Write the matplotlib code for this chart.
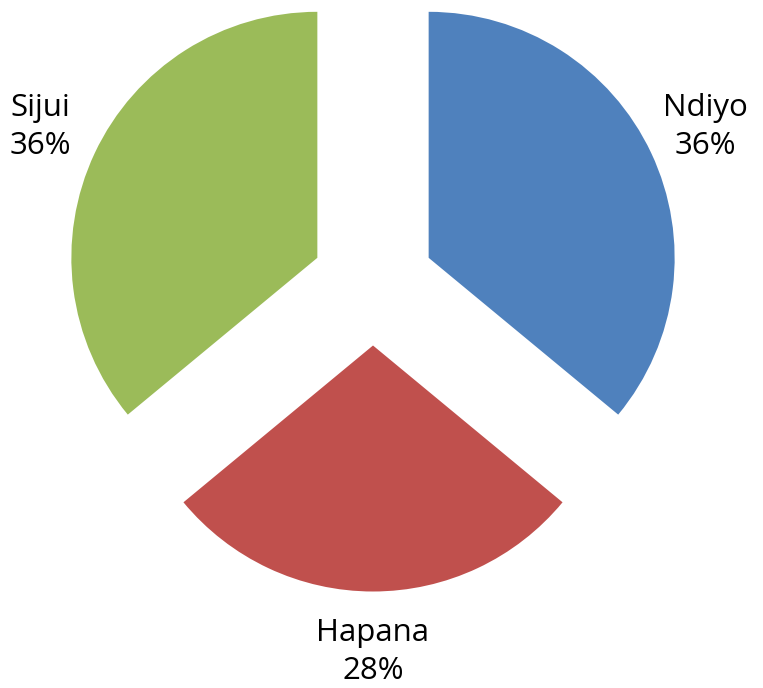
import matplotlib
matplotlib.use("Agg")
import matplotlib.pyplot as plt

categories = ["Ndiyo", "Hapana", "Sijui"]
values = [36, 28, 36]
colors = ["#4F81BD", "#C0504D", "#9BBB59"]

W, H, DPI = 763, 688, 100
fig = plt.figure(figsize=(W / DPI, H / DPI), dpi=DPI)
ax = fig.add_axes([0, 0, 1, 1])

labels = [f"{c}\n{v}%" for c, v in zip(categories, values)]
wedges, texts = ax.pie(values, labels=labels, colors=colors, startangle=90,
                       counterclock=False, explode=[0.25] * 3,
                       labeldistance=1.245,
                       wedgeprops=dict(linewidth=0),
                       textprops=dict(fontsize=22.5, family=["Open Sans", "DejaVu Sans"],
                                      color="black"))
for t in texts:
    t.set_ha("center")
    t.set_va("center")
    t.set_multialignment("center")
    t.set_linespacing(1.35)

R = 246.0
cx, cy = 373.0, 284.0
ax.set_aspect("auto")
ax.set_xlim(-cx / R, (W - cx) / R)
ax.set_ylim(-(H - cy) / R, cy / R)
ax.axis("off")

fig.savefig("out.png", dpi=DPI)
